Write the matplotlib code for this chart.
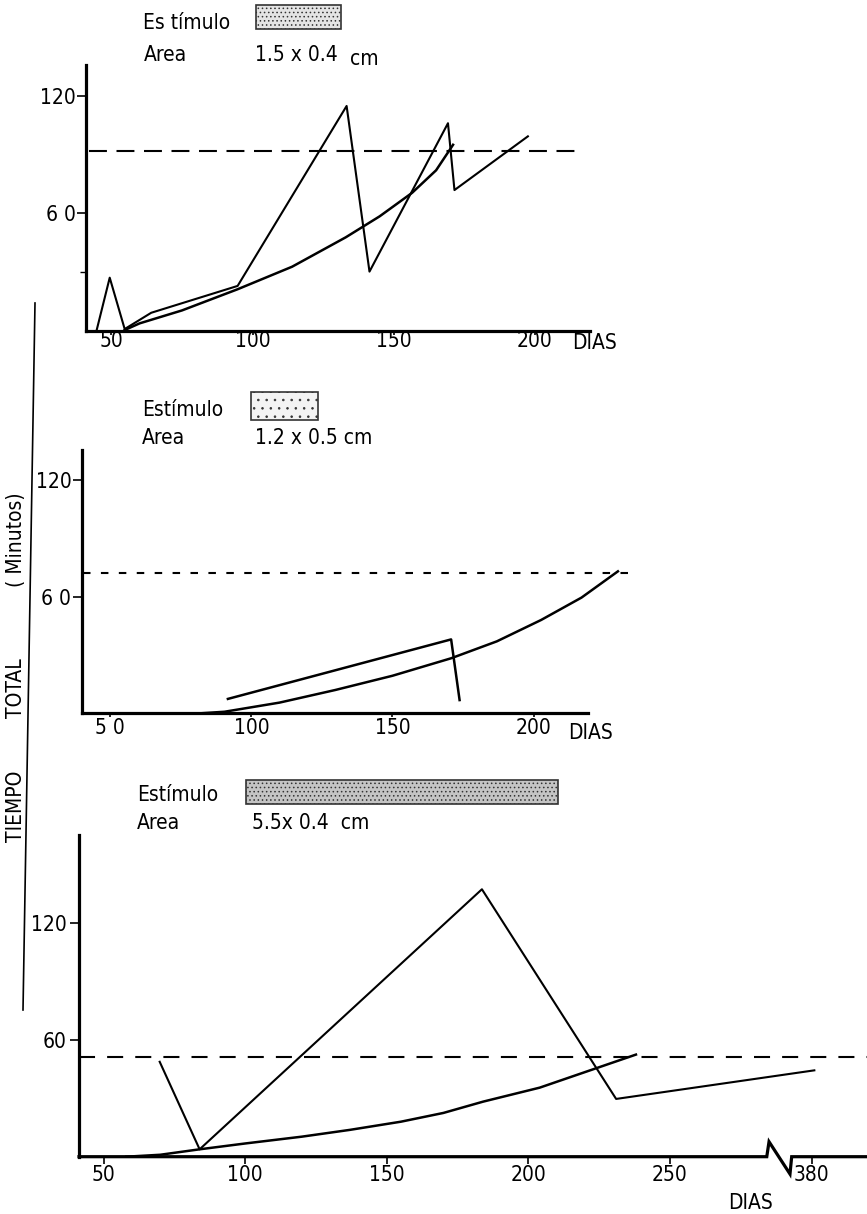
import numpy as np
import matplotlib
matplotlib.use("Agg")
import matplotlib.pyplot as plt
from matplotlib.patches import Rectangle

plt.rcParams['font.family'] = ['DejaVu Sans']
plt.rcParams['font.stretch'] = 'condensed'

# panel 1 : estimulo 1.5 x 0.4 cm
p1_zig_x = [44.7, 49.4, 54.7, 64.1, 94.7, 133.3, 141.4, 169.2, 171.5, 197.5]
p1_zig_y = [0, 27.2, 1, 9.3, 23, 114.8, 30.3, 106, 71.9, 99.3]
p1_cur_x = [54.7, 60, 75, 94.7, 114, 133, 145, 156.5, 165, 171]
p1_cur_y = [0.5, 3.9, 10.5, 21.3, 32.8, 47.8, 58.5, 70.5, 82, 95]
p1_ref = 92

# panel 2 : estimulo 1.2 x 0.5 cm
p2_zig_x = [91.7, 170.8, 173.8]
p2_zig_y = [7.4, 38, 6.8]
p2_cur_x = [82, 90.5, 110, 129.8, 150, 170.8, 187, 202.7, 217, 229.9]
p2_cur_y = [0, 0.8, 5.5, 12, 19.3, 28.3, 37, 48, 59.5, 73]
p2_ref = 72.3

# panel 3 : estimulo 5.5 x 0.4 cm (axis broken between 290 and 370 days)
p3_zig_x = [69.8, 83.9, 183.6, 231, 381]
p3_zig_y = [48.8, 3.8, 137.5, 29.7, 44.4]
p3_cur_x = [58, 70, 83.9, 100, 120, 137, 155, 170, 184, 204, 222, 238]
p3_cur_y = [0, 1, 3.8, 6.8, 10.3, 13.8, 18, 22.5, 28.3, 35.5, 44.5, 52.5]
p3_ref = 51.4
gap = 80  # days cut out by the axis break


def squeeze(d):
    d = np.asarray(d, dtype=float)
    return np.where(d > 290, d - gap, d)


W, H = 867, 1214
fig = plt.figure(figsize=(W / 100, H / 100), dpi=100)


def box(l, r, top, bot):
    return [l / W, 1 - bot / H, (r - l) / W, (bot - top) / H]


def setup(ax, ylabels, xlabels, xpad):
    for s in ['top', 'right']:
        ax.spines[s].set_visible(False)
    for s in ['left', 'bottom']:
        ax.spines[s].set_linewidth(2.3)
    ax.set_yticks([60, 120])
    ax.set_yticklabels(ylabels)
    ax.set_xticks([50, 100, 150, 200])
    ax.set_xticklabels(xlabels)
    ax.tick_params(axis='y', direction='out', length=6.5, width=1.2, pad=1, labelsize=15)
    ax.tick_params(axis='x', direction='out', length=3, width=1.2, pad=xpad, labelsize=15)


lw = 1.5

ax1 = fig.add_axes(box(86, 590, 65, 331))
ax1.set_xlim(41, 219.5)
ax1.set_ylim(0, 135.7)
setup(ax1, ['6 0', '120'], ['50', '100', '150', '200'], -3)
ax1.set_yticks([30], minor=True)
ax1.tick_params(axis='y', which='minor', direction='out', length=4, width=1)
ax1.plot(p1_zig_x, p1_zig_y, color='black', lw=lw)
ax1.plot(p1_cur_x, p1_cur_y, color='black', lw=lw + 0.3)
ax1.plot([42, 217.5], [p1_ref, p1_ref], color='black', lw=1.5, dashes=(8.6, 4.6))

ax2 = fig.add_axes(box(81.7, 588, 450, 713.3))
ax2.set_xlim(39.9, 219.3)
ax2.set_ylim(0, 135.4)
setup(ax2, ['6 0', '120'], ['5 0', '100', '150', '200'], 0.5)
ax2.plot(p2_zig_x, p2_zig_y, color='black', lw=lw + 0.3)
ax2.plot(p2_cur_x, p2_cur_y, color='black', lw=lw + 0.3, clip_on=False)
ax2.plot([40.5, 235], [p2_ref, p2_ref], color='black', lw=1.5, dashes=(3.6, 5), clip_on=False)

ax3 = fig.add_axes(box(79, 867, 835, 1156.7))
ax3.set_xlim(41.3, 319.6)
ax3.set_ylim(0, 165.4)
setup(ax3, ['60', '120'], ['50', '100', '150', '200'], 1)
ax3.set_xticks([50, 100, 150, 200, 250, 380 - gap])
ax3.set_xticklabels(['50', '100', '150', '200', '250', '380'])
ax3.tick_params(axis='x', length=5, pad=1)
ax3.tick_params(axis='y', pad=2.5)
ax3.spines['bottom'].set_visible(False)
brk = 284.2
ax3.plot([41.3, brk, brk + 0.8, brk + 8.2, brk + 8.8, 319.6], [0, 0, 7.7, -8.9, 0, 0],
         color='black', lw=2.3, clip_on=False, solid_joinstyle='miter')
ax3.plot(squeeze(p3_zig_x), p3_zig_y, color='black', lw=lw)
ax3.plot(squeeze(p3_cur_x), p3_cur_y, color='black', lw=lw + 0.3)
ax3.plot([41.3, 319.6], [p3_ref, p3_ref], color='black', lw=1.5, dashes=(7.7, 5.8), clip_on=False)


def ftext(x, y, s, **kw):
    fig.text(x / W, 1 - y / H, s, va='center', fontsize=15, **kw)


def stim(l, r, top, bot, fc, hatch):
    fig.add_artist(Rectangle((l / W, 1 - bot / H), (r - l) / W, (bot - top) / H,
                             transform=fig.transFigure, facecolor=fc, edgecolor='#333333',
                             hatch=hatch, lw=1.2))


matplotlib.rcParams['hatch.color'] = '#777777'
matplotlib.rcParams['hatch.linewidth'] = 0.6

ftext(143, 23, 'Es tímulo')
stim(256, 341, 5, 29, '#e4e4e4', '....')
ftext(144, 55, 'Area')
ftext(255, 55, '1.5 x 0.4')
ftext(350, 59, 'cm')
ftext(594, 343, 'DIAS', ha='center')

ftext(142, 410, 'Estímulo')
stim(251, 318, 392, 420, '#f3f3f3', '..')
ftext(142, 438, 'Area')
ftext(255, 438, '1.2 x 0.5 cm')
ftext(591, 733, 'DIAS', ha='center')

ftext(137, 795, 'Estímulo')
stim(246, 558, 780, 804, '#c4c4c4', '....')
ftext(137, 823, 'Area')
ftext(252, 823, '5.5x 0.4  cm')
ftext(750, 1203, 'DIAS', ha='center')

# y label and its bracket line
fig.text(16 / W, 1 - 806 / H, 'TIEMPO', rotation=90, ha='center', va='center', fontsize=15)
fig.text(16 / W, 1 - 688 / H, 'TOTAL', rotation=90, ha='center', va='center', fontsize=15)
fig.text(16 / W, 1 - 540 / H, '( Minutos)', rotation=90, ha='center', va='center', fontsize=15)
fig.add_artist(plt.Line2D([35 / W, 23 / W], [1 - 303 / H, 1 - 1010 / H],
                          transform=fig.transFigure, color='black', lw=1.2))

fig.savefig('out.png', dpi=100, facecolor='white')
